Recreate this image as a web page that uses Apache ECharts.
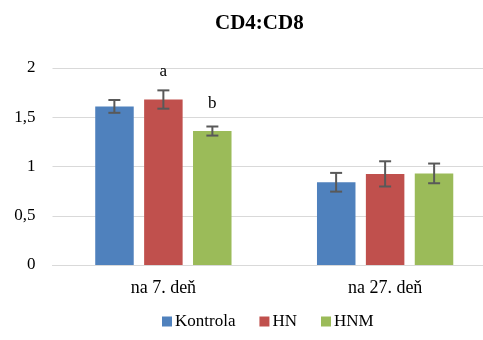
<!DOCTYPE html>
<html><head><meta charset="utf-8">
<script src="https://cdn.jsdelivr.net/npm/echarts@6/dist/echarts.min.js"></script>
<style>html,body{margin:0;padding:0;background:#fff;overflow:hidden;width:483px;height:340px}#c{width:496px;height:340px}</style>
</head><body><div id="c"></div>
<script>
const categories = ['na 7. deň', 'na 27. deň'];
const seriesNames = ['Kontrola', 'HN', 'HNM'];
const kontrola = [1.61, 0.84];
const hn = [1.68, 0.925];
const hnm = [1.36, 0.93];
const errKontrola = [0.065, 0.095];
const errHn = [0.093, 0.128];
const errHnm = [0.046, 0.10];
const letters = [['', ''], ['a', ''], ['b', '']];
const yTicks = [0, 0.5, 1, 1.5, 2];
const colors = ['#4F81BD', '#C0504D', '#9BBB59'];

const values = [kontrola, hn, hnm];
const errs = [errKontrola, errHn, errHnm];
const FONT = '"Liberation Serif", "Times New Roman", serif';
const BW = 38.5, STEP = 49;

const series = [];
values.forEach((vals, si) => {
  series.push({
    name: seriesNames[si], type: 'bar', barWidth: BW, barGap: '27%',
    itemStyle: { color: colors[si] },
    data: vals.map((v, i) => ({
      value: v,
      label: { show: !!letters[si][i], formatter: letters[si][i], position: 'top', distance: 19,
               fontFamily: FONT, fontSize: 17, color: '#000' }
    }))
  });
});
values.forEach((vals, si) => {
  series.push({
    type: 'custom', silent: true, z: 5,
    data: vals.map((v, i) => [i, v, errs[si][i]]),
    renderItem: function (params, api) {
      const c = api.coord([api.value(0), api.value(1)]);
      const e = api.value(2);
      const x = c[0] + (si - 1) * STEP;
      const top = api.coord([api.value(0), api.value(1) + e])[1];
      const bot = api.coord([api.value(0), api.value(1) - e])[1];
      const st = { stroke: '#595959', lineWidth: 2 };
      return { type: 'group', children: [
        { type: 'line', shape: { x1: x, y1: top, x2: x, y2: bot }, style: st },
        { type: 'line', shape: { x1: x - 6, y1: top, x2: x + 6, y2: top }, style: st },
        { type: 'line', shape: { x1: x - 6, y1: bot, x2: x + 6, y2: bot }, style: st }
      ]};
    }
  });
});

const chart = echarts.init(document.getElementById('c'));
chart.setOption({
  animation: false,
  title: { text: 'CD4:CD8', left: 210, top: 8,
           textStyle: { fontFamily: FONT, fontSize: 21, fontWeight: 'bold', color: '#000' } },
  legend: { data: seriesNames, bottom: 5, left: 157, itemWidth: 10, itemHeight: 10, itemGap: 24,
            icon: 'rect', textStyle: { fontFamily: FONT, fontSize: 17, color: '#000', padding: [0, 0, 0, -2] } },
  grid: { left: 52.5, top: 68, right: 0, bottom: 75, containLabel: false },
  xAxis: { type: 'category', data: categories,
           axisLine: { lineStyle: { color: '#D9D9D9', width: 1 } }, axisTick: { show: false },
           axisLabel: { fontFamily: FONT, fontSize: 18, color: '#000', margin: 14 } },
  yAxis: { type: 'value', min: yTicks[0], max: yTicks[yTicks.length - 1], interval: 0.5,
           axisLine: { show: false }, axisTick: { show: false },
           splitLine: { lineStyle: { color: '#D9D9D9', width: 1 } },
           axisLabel: { fontFamily: FONT, fontSize: 17, color: '#000', margin: 17,
                        formatter: v => String(v).replace('.', ',') } },
  series: series
});
</script></body></html>
